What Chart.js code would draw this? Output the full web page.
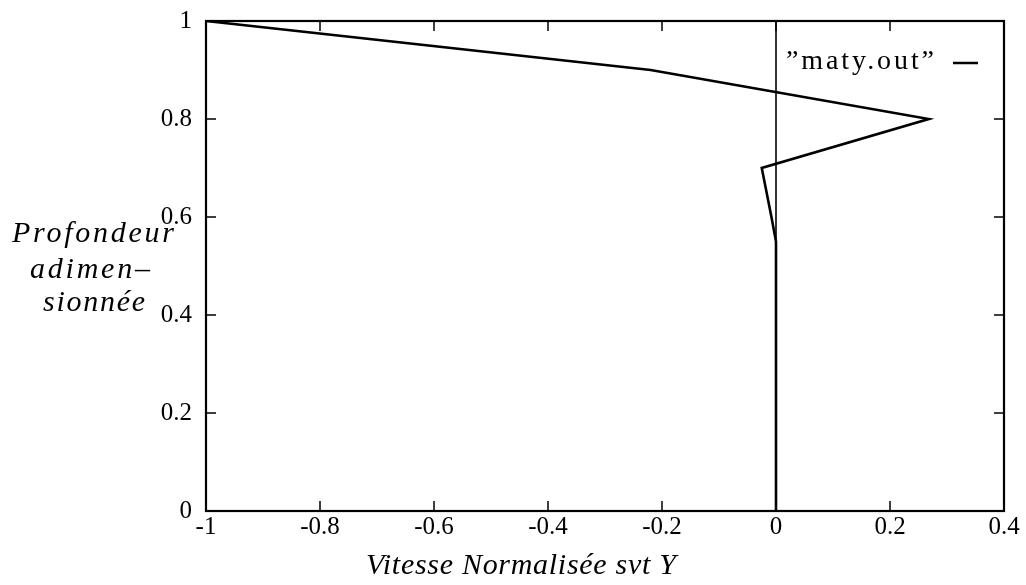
<!DOCTYPE html>
<html>
<head>
<meta charset="utf-8">
<script src="https://cdn.jsdelivr.net/npm/chart.js@4/dist/chart.umd.min.js"></script>
<style>
  body { margin: 0; background: #fff; }
  canvas { display: block; }
</style>
</head>
<body>
<canvas id="profilChart" width="1026" height="585"></canvas>
<script>
// profondeur adimensionnee (axe Y) et vitesse normalisee (axe X)
const profondeur = [0, 0.1, 0.2, 0.3, 0.4, 0.5, 0.55, 0.6, 0.7, 0.8, 0.9, 1];
const vitesse = [0, 0, 0, 0, 0, 0, 0, -0.008, -0.025, 0.268, -0.22, -1];
const serieLabel = '\u201Dmaty.out\u201D';
const xTicks = [-1, -0.8, -0.6, -0.4, -0.2, 0, 0.2, 0.4];
const yTicks = [0, 0.2, 0.4, 0.6, 0.8, 1];
const titreX = 'Vitesse Normalisée svt Y';
const titreY = ['Profondeur', 'adimen\u2013', 'sionnée'];

const serif = "'Liberation Serif', 'DejaVu Serif', serif";

// texte etire pour tomber sur une largeur donnee (polices LaTeX plus larges)
function fitText(ctx, txt, cx, cy, width) {
  ctx.letterSpacing = '0px';
  const w = ctx.measureText(txt).width;
  const extra = (width - w) / Math.max(txt.length - 1, 1);
  ctx.letterSpacing = extra.toFixed(2) + 'px';
  ctx.textAlign = 'left';
  ctx.fillText(txt, cx - width / 2, cy);
  ctx.letterSpacing = '0px';
}

const cadrePlugin = {
  id: 'cadre',
  beforeDatasetsDraw(chart) {
    const ctx = chart.ctx;
    const a = chart.chartArea;
    const x = chart.scales.x;
    // axe du zero
    ctx.save();
    ctx.strokeStyle = '#000';
    ctx.lineWidth = 1.6;
    const x0 = x.getPixelForValue(0);
    ctx.beginPath();
    ctx.moveTo(x0, a.top);
    ctx.lineTo(x0, a.bottom);
    ctx.stroke();
    ctx.restore();
  },
  afterDatasetsDraw(chart) {
    const ctx = chart.ctx;
    const a = chart.chartArea;
    const x = chart.scales.x;
    const y = chart.scales.y;
    ctx.save();
    ctx.strokeStyle = '#000';
    ctx.lineWidth = 2.2;
    ctx.strokeRect(a.left, a.top, a.right - a.left, a.bottom - a.top);

    // graduations vers l'interieur, sur les 4 cotes
    ctx.lineWidth = 1.5;
    const tl = 10;
    xTicks.forEach(function(v) {
      const px = x.getPixelForValue(v);
      ctx.beginPath();
      ctx.moveTo(px, a.bottom); ctx.lineTo(px, a.bottom - tl);
      ctx.moveTo(px, a.top); ctx.lineTo(px, a.top + tl);
      ctx.stroke();
    });
    yTicks.forEach(function(v) {
      const py = y.getPixelForValue(v);
      ctx.beginPath();
      ctx.moveTo(a.left, py); ctx.lineTo(a.left + tl, py);
      ctx.moveTo(a.right, py); ctx.lineTo(a.right - tl, py);
      ctx.stroke();
    });

    // legende
    ctx.fillStyle = '#000';
    ctx.textBaseline = 'middle';
    ctx.font = '28px ' + serif;
    fitText(ctx, serieLabel, 860, 62, 148);
    ctx.lineWidth = 2.5;
    ctx.beginPath();
    ctx.moveTo(953, 63);
    ctx.lineTo(978, 63);
    ctx.stroke();

    // titres des axes
    ctx.font = 'italic 30px ' + serif;
    fitText(ctx, titreX, 521, 566, 310);
    fitText(ctx, titreY[0], 93, 234, 162);
    fitText(ctx, titreY[1], 90, 270, 120);
    fitText(ctx, titreY[2], 94, 303, 102);
    ctx.restore();
  }
};

const points = profondeur.map(function(p, i) {
  return { x: vitesse[i], y: p };
});

Chart.defaults.font.family = serif;
Chart.defaults.font.size = 25;
Chart.defaults.color = '#000';

new Chart(document.getElementById('profilChart').getContext('2d'), {
  type: 'scatter',
  data: {
    datasets: [{
      label: serieLabel,
      data: points,
      showLine: true,
      borderColor: '#000',
      borderWidth: 2.6,
      pointRadius: 0,
      tension: 0
    }]
  },
  options: {
    responsive: false,
    animation: false,
    layout: { padding: { top: 21, right: 22, left: 0, bottom: 0 } },
    plugins: {
      legend: { display: false },
      tooltip: { enabled: false }
    },
    scales: {
      x: {
        type: 'linear',
        min: -1,
        max: 0.4,
        afterFit: function(scale) {
          scale.height = 74;
          scale.paddingLeft = 0;
          scale.paddingRight = 0;
        },
        afterBuildTicks: function(scale) {
          scale.ticks = xTicks.map(function(v) { return { value: v }; });
        },
        grid: { display: false, drawTicks: false },
        border: { display: false },
        ticks: {
          padding: 1,
          autoSkip: false,
          maxRotation: 0,
          callback: function(v) { return String(Math.round(v * 10) / 10); }
        }
      },
      y: {
        type: 'linear',
        min: 0,
        max: 1,
        afterFit: function(scale) {
          scale.width = 206;
          scale.paddingTop = 0;
          scale.paddingBottom = 0;
        },
        afterBuildTicks: function(scale) {
          scale.ticks = yTicks.map(function(v) { return { value: v }; });
        },
        grid: { display: false, drawTicks: false },
        border: { display: false },
        ticks: {
          padding: 14,
          autoSkip: false,
          callback: function(v) { return String(Math.round(v * 10) / 10); }
        }
      }
    }
  },
  plugins: [cadrePlugin]
});
</script>
</body>
</html>
